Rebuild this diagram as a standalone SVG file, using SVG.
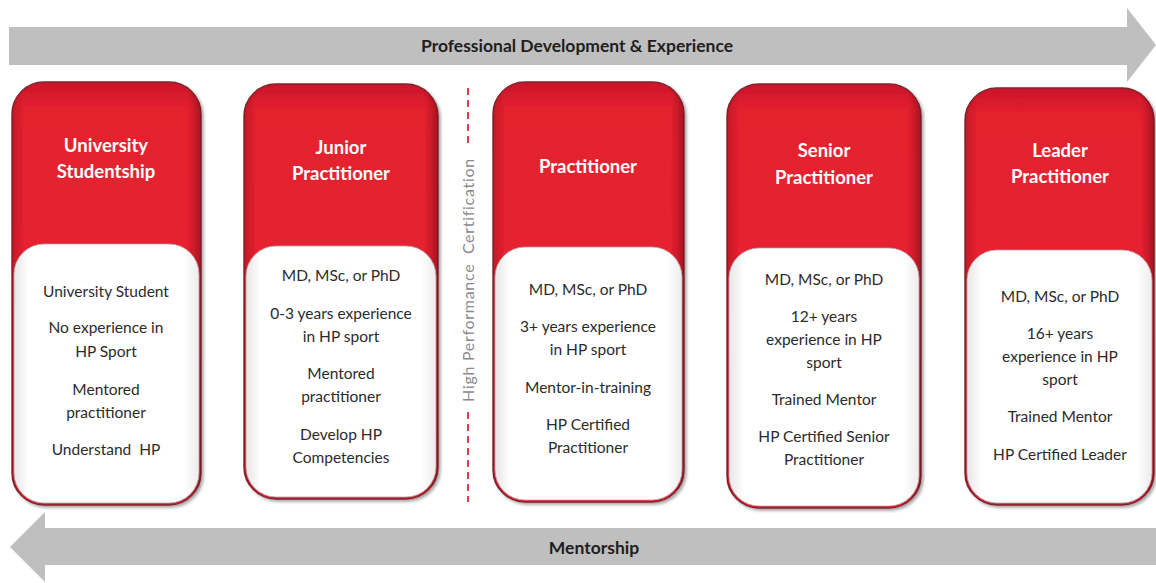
<svg xmlns="http://www.w3.org/2000/svg" width="1156" height="583" viewBox="0 0 1156 583">
  <style>
    .title { font-family: Lato, "Open Sans", "Liberation Sans", sans-serif; font-weight: 700; font-size: 18.5px; fill: #ffffff; text-anchor: middle; }
    .body { font-family: Lato, "Open Sans", "Liberation Sans", sans-serif; font-size: 15.5px; fill: #2b2b2b; text-anchor: middle; }
    .band { font-family: Lato, "Open Sans", "Liberation Sans", sans-serif; font-weight: 700; font-size: 17.5px; fill: #1e1e1e; text-anchor: middle; }
    .cert { font-family: Lato, "Open Sans", "Liberation Sans", sans-serif; font-size: 16px; fill: #8a8a8a; text-anchor: middle; letter-spacing: 0.7px; }
    .pre { white-space: pre; }
    .arrow { fill: #bfbfbf; }
    .red { fill: url(#redFill); stroke: #7c2630; stroke-width: 1.4; }
    .sheen { fill: url(#edgeShade); }
    .panel { fill: url(#panelFill); stroke: #b9a2a6; stroke-width: 0.8; }
    .divider { stroke: #d9414f; stroke-width: 2; stroke-dasharray: 7 5; fill: none; }
  </style>
  <defs>
    <linearGradient id="redFill" x1="0" y1="0" x2="0" y2="1">
      <stop offset="0" stop-color="#c9152a"/>
      <stop offset="0.06" stop-color="#e4202f"/>
      <stop offset="0.5" stop-color="#e62030"/>
      <stop offset="1" stop-color="#d81b2c"/>
    </linearGradient>
    <linearGradient id="edgeShade" x1="0" y1="0" x2="1" y2="0">
      <stop offset="0" stop-color="#7a0a16" stop-opacity="0.35"/>
      <stop offset="0.06" stop-color="#7a0a16" stop-opacity="0"/>
      <stop offset="0.93" stop-color="#7a0a16" stop-opacity="0"/>
      <stop offset="1" stop-color="#5a0610" stop-opacity="0.45"/>
    </linearGradient>
    <linearGradient id="panelFill" x1="0" y1="0" x2="1" y2="0">
      <stop offset="0" stop-color="#e6e6e6"/>
      <stop offset="0.08" stop-color="#ffffff"/>
      <stop offset="0.92" stop-color="#ffffff"/>
      <stop offset="1" stop-color="#ececec"/>
    </linearGradient>
    <filter id="shadow" x="-10%" y="-10%" width="125%" height="125%">
      <feDropShadow dx="2" dy="2" stdDeviation="1.8" flood-color="#000000" flood-opacity="0.35"/>
    </filter>
  </defs>

  <rect width="1156" height="583" fill="#ffffff"/>

  <!-- direction bands -->
  <g id="connectors">
    <path class="arrow" d="M9,27 H1127 V8 L1156,45 L1127,82 V65 H9 Z"/>
    <text class="band" x="577" y="52">Professional Development &amp; Experience</text>
    <path class="arrow" d="M1156,528 H45 V512 L10,547 L45,582 V565 H1156 Z"/>
    <text class="band" x="594" y="554">Mentorship</text>
  </g>

  <!-- certification threshold -->
  <g id="certification">
    <line class="divider" x1="468" y1="88" x2="468" y2="146"/>
    <line class="divider" x1="468" y1="412" x2="468" y2="502"/>
    <text class="cert pre" xml:space="preserve" transform="translate(474,280) rotate(-90)">High Performance  Certification</text>
  </g>

  <!-- card 1 -->
  <g id="university-studentship" filter="url(#shadow)">
    <rect class="red" x="12" y="82" width="189" height="423" rx="32"/>
    <rect class="sheen" x="12" y="82" width="189" height="423" rx="32"/>
    <rect class="panel" x="14" y="244" width="185" height="259" rx="30"/>
  </g>
  <g>
    <text class="title" x="106" y="152">University</text>
    <text class="title" x="106" y="178">Studentship</text>
    <text class="body" x="106" y="297">University Student</text>
    <text class="body" x="106" y="333">No experience in</text>
    <text class="body" x="106" y="357">HP Sport</text>
    <text class="body" x="106" y="395">Mentored</text>
    <text class="body" x="106" y="418">practitioner</text>
    <text class="body pre" xml:space="preserve" x="106" y="455">Understand  HP</text>
  </g>

  <!-- card 2 -->
  <g id="junior-practitioner" filter="url(#shadow)">
    <rect class="red" x="244" y="84" width="194" height="415" rx="32"/>
    <rect class="sheen" x="244" y="84" width="194" height="415" rx="32"/>
    <rect class="panel" x="246" y="246" width="190" height="251" rx="30"/>
  </g>
  <g>
    <text class="title" x="341" y="154">Junior</text>
    <text class="title" x="341" y="180">Practitioner</text>
    <text class="body" x="341" y="281">MD, MSc, or PhD</text>
    <text class="body" x="341" y="319">0-3 years experience</text>
    <text class="body" x="341" y="342">in HP sport</text>
    <text class="body" x="341" y="379">Mentored</text>
    <text class="body" x="341" y="402">practitioner</text>
    <text class="body" x="341" y="440">Develop HP</text>
    <text class="body" x="341" y="463">Competencies</text>
  </g>

  <!-- card 3 -->
  <g id="practitioner" filter="url(#shadow)">
    <rect class="red" x="493" y="82" width="191" height="420" rx="32"/>
    <rect class="sheen" x="493" y="82" width="191" height="420" rx="32"/>
    <rect class="panel" x="495" y="247" width="187" height="253" rx="30"/>
  </g>
  <g>
    <text class="title" x="588" y="173">Practitioner</text>
    <text class="body" x="588" y="295">MD, MSc, or PhD</text>
    <text class="body" x="588" y="332">3+ years experience</text>
    <text class="body" x="588" y="355">in HP sport</text>
    <text class="body" x="588" y="393">Mentor-in-training</text>
    <text class="body" x="588" y="430">HP Certified</text>
    <text class="body" x="588" y="453">Practitioner</text>
  </g>

  <!-- card 4 -->
  <g id="senior-practitioner" filter="url(#shadow)">
    <rect class="red" x="727" y="84" width="194" height="424" rx="32"/>
    <rect class="sheen" x="727" y="84" width="194" height="424" rx="32"/>
    <rect class="panel" x="729" y="248" width="190" height="258" rx="30"/>
  </g>
  <g>
    <text class="title" x="824" y="157">Senior</text>
    <text class="title" x="824" y="184">Practitioner</text>
    <text class="body" x="824" y="285">MD, MSc, or PhD</text>
    <text class="body" x="824" y="322">12+ years</text>
    <text class="body" x="824" y="345">experience in HP</text>
    <text class="body" x="824" y="368">sport</text>
    <text class="body" x="824" y="405">Trained Mentor</text>
    <text class="body" x="824" y="442">HP Certified Senior</text>
    <text class="body" x="824" y="465">Practitioner</text>
  </g>

  <!-- card 5 -->
  <g id="leader-practitioner" filter="url(#shadow)">
    <rect class="red" x="965" y="88" width="189" height="417" rx="32"/>
    <rect class="sheen" x="965" y="88" width="189" height="417" rx="32"/>
    <rect class="panel" x="967" y="250" width="185" height="253" rx="30"/>
  </g>
  <g>
    <text class="title" x="1060" y="157">Leader</text>
    <text class="title" x="1060" y="183">Practitioner</text>
    <text class="body" x="1060" y="302">MD, MSc, or PhD</text>
    <text class="body" x="1060" y="339">16+ years</text>
    <text class="body" x="1060" y="362">experience in HP</text>
    <text class="body" x="1060" y="385">sport</text>
    <text class="body" x="1060" y="422">Trained Mentor</text>
    <text class="body" x="1060" y="460">HP Certified Leader</text>
  </g>
</svg>
